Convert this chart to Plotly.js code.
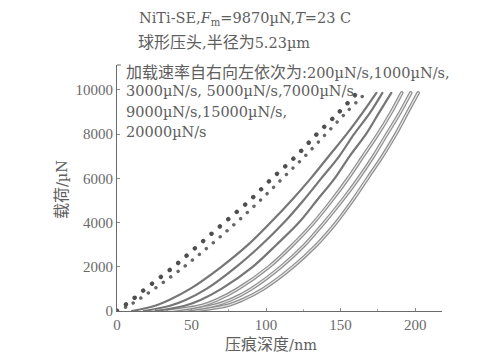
<!DOCTYPE html>
<html>
<head>
<meta charset="utf-8">
<script src="https://cdn.plot.ly/plotly-3.0.1.min.js"></script>
<style>
html,body{margin:0;padding:0;background:#fff;}
#chart{width:478px;height:354px;}
.scatterlayer path.js-line{stroke-linecap:round;}
</style>
</head>
<body>
<div id="chart"></div>
<script>
// Load levels (µN) and the indentation depth (nm) read for each loading rate
const loads = [0, 250, 500, 1000, 2000, 3000, 4000, 5000, 6000, 7000, 8000, 9000, 9870];
const depth_200   = [50, 74, 84, 98, 118, 134, 147, 158, 168, 178, 187, 195, 202];
const depth_1000  = [42, 65, 76, 90, 110, 126, 139, 151, 162, 172, 181, 190, 197];
const depth_3000  = [34, 57, 67, 81, 102, 118, 132, 144, 155, 165, 175, 184, 191];
const depth_5000  = [26, 46, 56, 70, 91, 107, 122, 134, 146, 156, 167, 176, 184];
const depth_7000  = [18, 36, 46, 60, 80, 97, 112, 125, 137, 149, 159, 170, 178];
const depth_9000  = [10, 26, 35, 49, 70, 88, 103, 117, 130, 142, 154, 165, 174];
const depth_15000 = [0, 8, 14, 25, 45, 63, 80, 96, 111, 126, 140, 154, 167];
const depth_20000 = [0, 5, 10, 19, 38, 55, 72, 89, 104, 120, 134, 149, 161];

const rateNames = ['200µN/s','1000µN/s','3000µN/s','5000µN/s','7000µN/s','9000µN/s','15000µN/s','20000µN/s'];
const depthSets = [depth_200, depth_1000, depth_3000, depth_5000, depth_7000, depth_9000, depth_15000, depth_20000];

const xTicks = [0, 50, 100, 150, 200];
const yTicks = [0, 2000, 4000, 6000, 8000, 10000];

const traces = [];
depthSets.forEach((d, i) => {
  const base = {x: d, y: loads, mode: 'lines', name: rateNames[i], showlegend: false,
                hoverinfo: 'skip'};
  if (i <= 2) {
    traces.push(Object.assign({}, base, {line: {color: '#8e8e8e', width: 3.6, shape: 'spline'}}));
    traces.push(Object.assign({}, base, {line: {color: '#e6e6e6', width: 1.2, shape: 'spline'}}));
  } else if (i <= 5) {
    traces.push(Object.assign({}, base, {line: {color: '#767676', width: 2.2, shape: 'spline'}}));
  } else if (i === 6) {
    traces.push(Object.assign({}, base, {line: {color: '#666666', width: 3.4, shape: 'spline', dash: '0.1px,9px'}}));
  } else {
    traces.push(Object.assign({}, base, {line: {color: '#4e4e4e', width: 4.4, shape: 'spline', dash: '0.1px,11px'}}));
  }
});

const TXT = '#5e5e5e';
const serif = 'DejaVu Serif, Noto Sans CJK SC, serif';
const cjk = s => '<span style="font-size:16px">' + s + '</span>';
function note(text, x, y, extra) {
  return Object.assign({text: text, x: x, y: y, xref: 'paper', yref: 'paper',
    xanchor: 'left', yanchor: 'middle', showarrow: false,
    font: {family: serif, size: 14.5, color: TXT}}, extra || {});
}

const annotations = [
  note('NiTi-SE,<i>F</i><sub>m</sub>=9870µN,<i>T</i>=23 C', 0.0615, 1.185),
  note(cjk('球形压头') + ',' + cjk('半径为') + '5.23µm', 0.058, 1.09),
  note(cjk('加载速率自右向左依次为') + ':200µN/s,1000µN/s,', 0.0215, 0.9715),
  note('3000µN/s, 5000µN/s,7000µN/s,', 0.0215, 0.894),
  note('9000µN/s,15000µN/s,', 0.0215, 0.809),
  note('20000µN/s', 0.0215, 0.728),
  note(cjk('压痕深度') + '/nm', 0.474, -0.135, {xanchor: 'center'}),
  note(cjk('载荷') + '/µN', -0.169, 0.492, {xanchor: 'center', textangle: -90})
];

const layout = {
  width: 478, height: 354,
  margin: {l: 117, r: 36, t: 65, b: 43, pad: 0},
  paper_bgcolor: '#ffffff', plot_bgcolor: '#ffffff',
  showlegend: false,
  xaxis: {range: [0, 218], tickvals: xTicks, ticktext: xTicks.map(String),
    showgrid: false, zeroline: false, showline: true, linecolor: '#6a6a6a', linewidth: 1,
    ticks: 'inside', ticklen: 3, tickcolor: '#8a8a8a',
    minor: {dtick: 25, tick0: 0, ticks: 'inside', ticklen: 2, tickcolor: '#aaaaaa'},
    tickfont: {family: 'Liberation Serif, serif', size: 15, color: '#6a6a6a'}},
  yaxis: {range: [0, 11130], tickvals: yTicks, ticktext: yTicks.map(String),
    showgrid: false, zeroline: false, showline: true, linecolor: '#6a6a6a', linewidth: 1,
    ticks: 'inside', ticklen: 3, tickcolor: '#8a8a8a',
    tickfont: {family: 'Liberation Serif, serif', size: 15, color: '#6a6a6a'}},
  shapes: [{type: 'line', xref: 'paper', yref: 'paper', x0: 0, x1: 0.012, y0: 1, y1: 1,
            line: {color: '#6a6a6a', width: 1}}],
  annotations: annotations
};

Plotly.newPlot('chart', traces, layout, {displayModeBar: false, staticPlot: true});
</script>
</body>
</html>
